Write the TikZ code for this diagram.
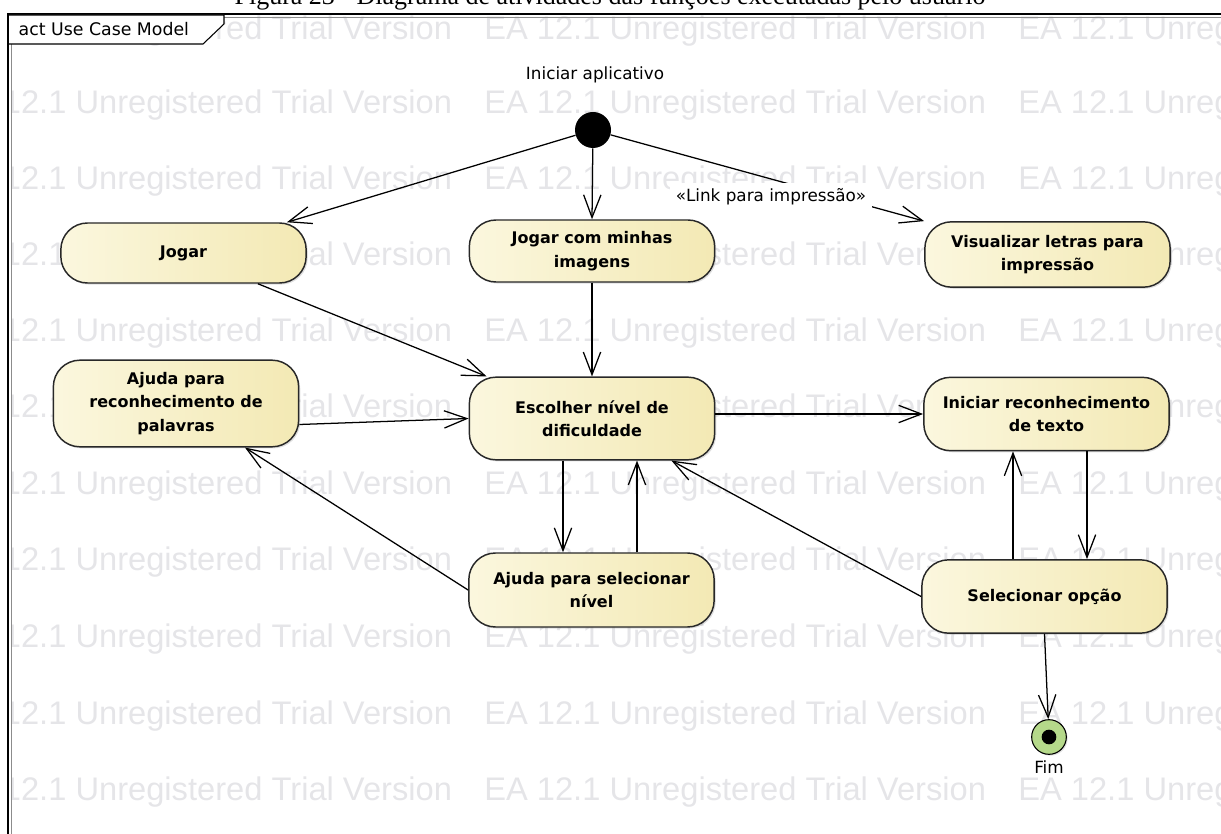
\documentclass[tikz,border=0pt]{standalone}
\usepackage{fontspec}
\setmainfont{Liberation Serif}
\newfontfamily\eafont{DejaVu Sans}
\newfontfamily\wmfont{Liberation Sans}
\usetikzlibrary{
  arrows.meta,
  calc,
  positioning,
  shadows
}

\definecolor{actleft}{RGB}{251,247,222}
\definecolor{actright}{RGB}{243,233,180}
\definecolor{finalgreen}{RGB}{181,217,138}
\definecolor{wmgray}{RGB}{229,229,232}
\definecolor{edgegray}{RGB}{40,40,40}

\tikzset{
  activity/.style={rectangle, rounded corners=20pt, draw=edgegray, line width=1.1pt,
    left color=actleft, right color=actright, minimum width=184pt,
    align=center, font=\eafont\bfseries\fontsize{12}{17.5}\selectfont,
    drop shadow={shadow xshift=1.2pt, shadow yshift=-1.2pt, opacity=0.25}},
  flow/.style={draw=black, line width=0.95pt,
    -{Straight Barb[length=17pt,width=13pt,line width=0.95pt]}},
  lbl/.style={font=\eafont\fontsize{12.6}{15}\selectfont},
  wmark/.style={font=\wmfont\fontsize{24.5}{28}\selectfont, text=wmgray,
    inner sep=0pt, anchor=base west}
}

\begin{document}
\begin{tikzpicture}[x=0.75pt,y=0.75pt]
  \useasboundingbox (0,0) rectangle (1221,-834);

  % trial watermark
  \begin{scope}
    \clip (12,-14) rectangle (1240,-850);
    \foreach \wy in {40,114,190,266,341,417,494,570,647,724,800}
      \foreach \wx in {-50,484,1018}
        \node[wmark] (wm\wx\wy) at (\wx,-\wy) {EA 12.1 Unregistered Trial Version};
  \end{scope}

  % frame and tab
  \draw[line width=1.5pt] (8,-860) -- (8,-14) -- (1240,-14);
  \draw[black!45, line width=0.6pt] (11,-860) -- (11,-17) -- (1240,-17);
  \draw[fill=white, line width=0.8pt] (9,-15) -- (224,-15) -- (224,-24) -- (203,-44) -- (9,-44);
  \node[lbl, font=\eafont\fontsize{13}{15}\selectfont, anchor=west] (tab) at (14,-29) {act Use Case Model};

  \node[font=\fontsize{19.5}{22}\selectfont, anchor=base] (caption) at (610,-5)
    {Figura 23 - Diagrama de atividades das funções executadas pelo usuário};

  % activities
  \node[circle, fill=black, minimum size=27pt, inner sep=0pt] (start) at (593,-130) {};
  \node[lbl] (startlbl) at (595,-75) {Iniciar aplicativo};

  \node[activity, minimum height=45pt] (jogar)    at (183.5,-253)  {Jogar};
  \node[activity, minimum height=46.5pt] (jogarimg) at (592,-251)  {Jogar com minhas\\imagens};
  \node[activity, minimum height=49pt] (visual)   at (1047.5,-254.5) {Visualizar letras para\\impressão};
  \node[activity, minimum height=65pt] (ajudarec) at (176,-403.5)  {Ajuda para\\reconhecimento de\\palavras};
  \node[activity, minimum height=62pt] (escolher) at (592,-418.5)  {Escolher nível de\\dificuldade};
  \node[activity, minimum height=55pt] (inicrec)  at (1046.5,-414) {Iniciar reconhecimento\\de texto};
  \node[activity, minimum height=55.5pt] (ajudasel) at (591.5,-590) {Ajuda para selecionar\\nível};
  \node[activity, minimum height=55pt] (selop)    at (1044.5,-596.5) {Selecionar opção};

  \node[circle, draw=black, line width=0.8pt, fill=finalgreen, minimum size=26pt, inner sep=0pt,
    drop shadow={shadow xshift=1pt, shadow yshift=-1pt, opacity=0.25}] (fim) at (1049,-737) {};
  \node[circle, fill=black, minimum size=11pt, inner sep=0pt] (fimdot) at (fim) {};
  \node[lbl] (fimlbl) at (1049,-767) {Fim};

  % flows
  \draw[flow] (start) -- ($(jogar.north east)+(-20,0)$);
  \draw[flow] (start) -- (jogarimg.north);
  \draw[flow] (start) -- (visual.north west);
  \node[lbl, fill=white, inner sep=4pt] (link) at (771,-197) {«Link para impressão»};
  \draw[flow] ($(jogar.south east)+(-49,0)$) -- ($(escolher.north west)+(18,0)$);
  \draw[flow] (jogarimg.south) -- (escolher.north);
  \draw[flow] ($(ajudarec.east)+(0,-21)$) -- (escolher.west);
  \draw[flow] (escolher.east |- inicrec.west) -- (inicrec.west);
  \draw[flow] ($(escolher.south)+(-29,0)$) -- ($(ajudasel.north)+(-28.5,0)$);
  \draw[flow] ($(ajudasel.north)+(45.5,0)$) -- ($(escolher.south)+(45,0)$);
  \draw[flow] (ajudasel.west) -- ($(ajudarec.south)+(69,0)$);
  \draw[flow] (selop.west) -- ($(escolher.south east)+(-44,0)$);
  \draw[flow] ($(selop.north)+(-31.5,0)$) -- ($(inicrec.south)+(-33.5,0)$);
  \draw[flow] ($(inicrec.south)+(40.5,0)$) -- ($(selop.north)+(42.5,0)$);
  \draw[flow] (selop.south) -- (fim);
\end{tikzpicture}
\end{document}
